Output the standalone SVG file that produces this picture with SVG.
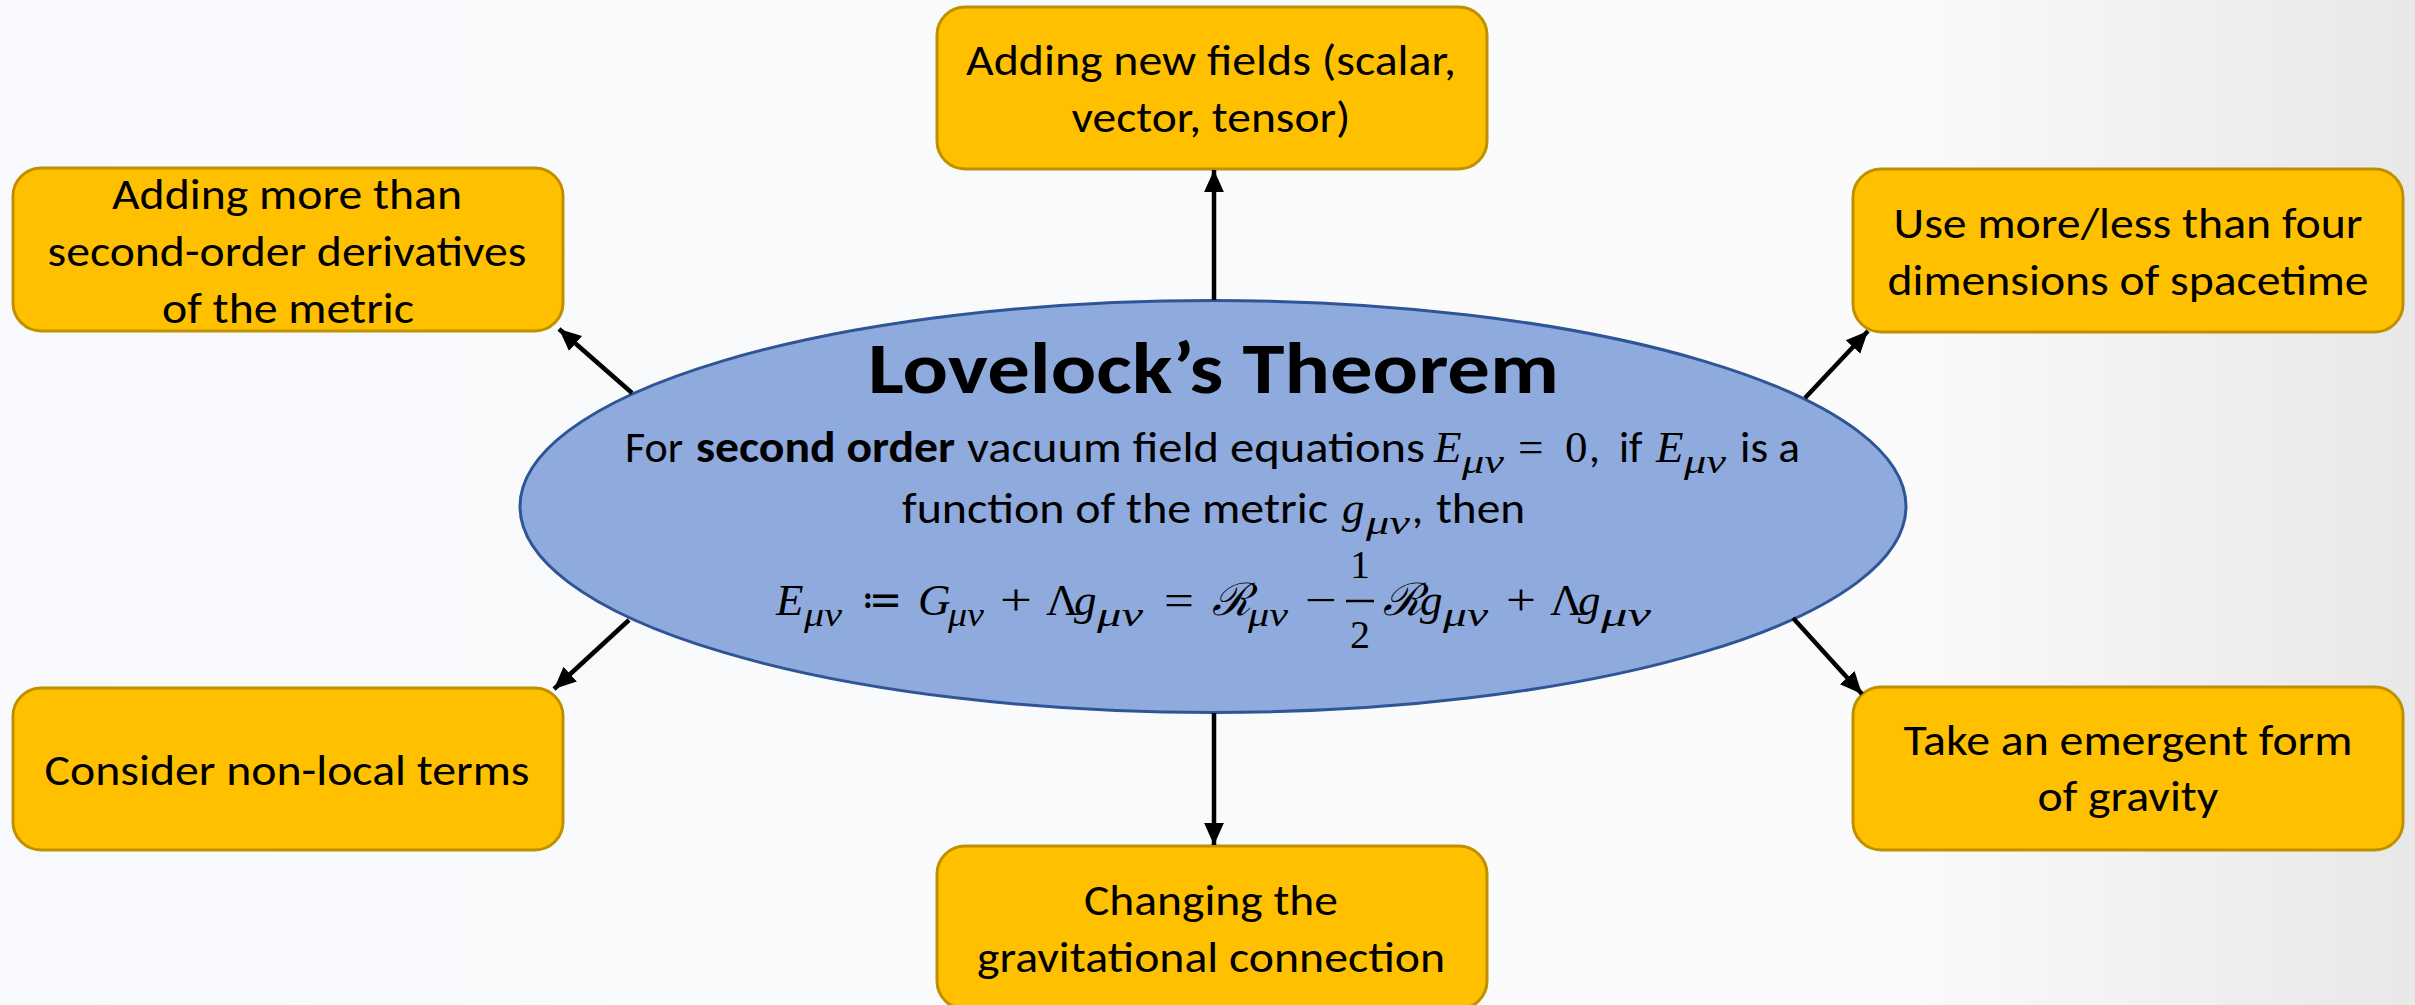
<svg xmlns="http://www.w3.org/2000/svg" width="2415" height="1005" viewBox="0 0 2415 1005">
<defs>
<linearGradient id="bg" x1="0" y1="0" x2="1" y2="0">
<stop offset="0" stop-color="#F7F9FC"/>
<stop offset="0.78" stop-color="#FBFBFB"/>
<stop offset="1" stop-color="#E8E8E8"/>
</linearGradient>
<marker id="ah" markerUnits="userSpaceOnUse" markerWidth="22" markerHeight="22" viewBox="0 0 20 18" refX="20" refY="9" orient="auto">
<path d="M0,0 L20,9 L0,18 Z" fill="#000"/>
</marker>
<style>
.box{fill:#FFC000;stroke:#BF9000;stroke-width:3}
.t{font-family:Carlito,"Liberation Sans",Arial,sans-serif;font-size:44px;fill:#000;text-anchor:middle}
.s{font-family:Carlito,"Liberation Sans",Arial,sans-serif;font-size:44px;fill:#000}
.b{font-weight:bold}
.m{font-family:"Liberation Serif","DejaVu Serif",serif;font-size:45px;font-style:italic;fill:#000}
.mu{font-family:"Liberation Serif","DejaVu Serif",serif;font-size:45px;fill:#000}
.sub{font-family:"Liberation Serif","DejaVu Serif",serif;font-size:33px;font-style:italic;fill:#000}
.c{fill:none;stroke:#000;stroke-width:4.5;marker-end:url(#ah)}
</style>
</defs>
<rect x="0" y="0" width="2415" height="1005" fill="url(#bg)"/>

<g id="center">
<ellipse cx="1213" cy="506.5" rx="693" ry="206" fill="#8FAADC" stroke="#2F5597" stroke-width="3"/>
<text x="868" y="393" class="s b" style="font-size:73px" textLength="691" lengthAdjust="spacingAndGlyphs">Lovelock’s Theorem</text>
<text class="s" y="462"><tspan x="625">For</tspan><tspan x="696" class="b" font-weight="bold" textLength="259" lengthAdjust="spacingAndGlyphs">second order</tspan><tspan x="967" textLength="458" lengthAdjust="spacingAndGlyphs">vacuum field equations</tspan></text>
<text class="m" x="1434" y="462">E</text><text class="sub" x="1462" y="473" textLength="42" lengthAdjust="spacingAndGlyphs">μν</text>
<text class="mu" x="1518" y="462">=</text><text class="mu" x="1565" y="462">0</text><text class="s" x="1589" y="462">,</text>
<text class="s" x="1619" y="462">if</text>
<text class="m" x="1656" y="462">E</text><text class="sub" x="1684" y="473" textLength="42" lengthAdjust="spacingAndGlyphs">μν</text>
<text class="s" x="1740" y="462" textLength="60" lengthAdjust="spacingAndGlyphs">is a</text>

<text class="s" x="902" y="523" textLength="426" lengthAdjust="spacingAndGlyphs">function of the metric</text>
<text class="m" x="1342" y="523">g</text><text class="sub" x="1366" y="534" textLength="44" lengthAdjust="spacingAndGlyphs">μν</text><text class="s" x="1412" y="523">,</text>
<text class="s" x="1436" y="523" textLength="89" lengthAdjust="spacingAndGlyphs">then</text>

<text class="m" x="776" y="615">E</text><text class="sub" x="804" y="626" textLength="38" lengthAdjust="spacingAndGlyphs">μν</text>
<text class="mu" x="861" y="615" textLength="41" lengthAdjust="spacingAndGlyphs">≔</text>
<text class="m" x="918" y="615">G</text><text class="sub" x="948" y="626" textLength="36" lengthAdjust="spacingAndGlyphs">μν</text>
<text class="mu" x="1000" y="615" textLength="32" lengthAdjust="spacingAndGlyphs">+</text>
<text class="mu" x="1046" y="615">Λ</text><text class="m" x="1074" y="615">g</text><text class="sub" x="1097" y="626" textLength="46" lengthAdjust="spacingAndGlyphs">μν</text>
<text class="mu" x="1164" y="615" textLength="30" lengthAdjust="spacingAndGlyphs">=</text>
<text class="m" x="1212" y="615">ℛ</text><text class="sub" x="1248" y="626" textLength="40" lengthAdjust="spacingAndGlyphs">μν</text>
<text class="mu" x="1305" y="615" textLength="32" lengthAdjust="spacingAndGlyphs">−</text>
<text class="mu" x="1360" y="578" text-anchor="middle" style="font-size:40px">1</text>
<line x1="1346" y1="601" x2="1374" y2="601" stroke="#000" stroke-width="2.5"/>
<text class="mu" x="1360" y="648" text-anchor="middle" style="font-size:40px">2</text>
<text class="m" x="1383" y="615">ℛ</text><text class="m" x="1420" y="615">g</text><text class="sub" x="1443" y="626" textLength="45" lengthAdjust="spacingAndGlyphs">μν</text>
<text class="mu" x="1506" y="615" textLength="30" lengthAdjust="spacingAndGlyphs">+</text>
<text class="mu" x="1550" y="615">Λ</text><text class="m" x="1578" y="615">g</text><text class="sub" x="1601" y="626" textLength="50" lengthAdjust="spacingAndGlyphs">μν</text>
</g>

<g id="n-top">
<rect class="box" x="937" y="7" width="550" height="162" rx="28"/>
<text class="t" x="1211" y="75" textLength="490" lengthAdjust="spacingAndGlyphs">Adding new fields (scalar,</text>
<text class="t" x="1211" y="132" textLength="279" lengthAdjust="spacingAndGlyphs">vector, tensor)</text>
</g>
<g id="n-upper-left">
<rect class="box" x="13" y="168" width="550" height="163" rx="28"/>
<text class="t" x="287" y="209" textLength="350" lengthAdjust="spacingAndGlyphs">Adding more than</text>
<text class="t" x="287" y="266" textLength="479" lengthAdjust="spacingAndGlyphs">second-order derivatives</text>
<text class="t" x="288" y="323" textLength="252" lengthAdjust="spacingAndGlyphs">of the metric</text>
</g>
<g id="n-upper-right">
<rect class="box" x="1853" y="169" width="550" height="163" rx="28"/>
<text class="t" x="2128" y="238" textLength="469" lengthAdjust="spacingAndGlyphs">Use more/less than four</text>
<text class="t" x="2128" y="295" textLength="481" lengthAdjust="spacingAndGlyphs">dimensions of spacetime</text>
</g>
<g id="n-lower-left">
<rect class="box" x="13" y="688" width="550" height="162" rx="28"/>
<text class="t" x="287" y="785" textLength="485" lengthAdjust="spacingAndGlyphs">Consider non-local terms</text>
</g>
<g id="n-lower-right">
<rect class="box" x="1853" y="687" width="550" height="163" rx="28"/>
<text class="t" x="2128" y="755" textLength="449" lengthAdjust="spacingAndGlyphs">Take an emergent form</text>
<text class="t" x="2128" y="811" textLength="181" lengthAdjust="spacingAndGlyphs">of gravity</text>
</g>
<g id="n-bottom">
<rect class="box" x="937" y="846" width="550" height="163" rx="28"/>
<text class="t" x="1211" y="915" textLength="254" lengthAdjust="spacingAndGlyphs">Changing the</text>
<text class="t" x="1211" y="972" textLength="468" lengthAdjust="spacingAndGlyphs">gravitational connection</text>
</g>

<g id="connectors">
<line class="c" x1="1214" y1="300" x2="1214" y2="170"/>
<line class="c" x1="632" y1="393" x2="559" y2="329"/>
<line class="c" x1="1805" y1="398" x2="1868" y2="331"/>
<line class="c" x1="1793" y1="618" x2="1862" y2="694"/>
<line class="c" x1="629" y1="620" x2="554" y2="689"/>
<line class="c" x1="1214" y1="713" x2="1214" y2="845"/>
</g>
</svg>
